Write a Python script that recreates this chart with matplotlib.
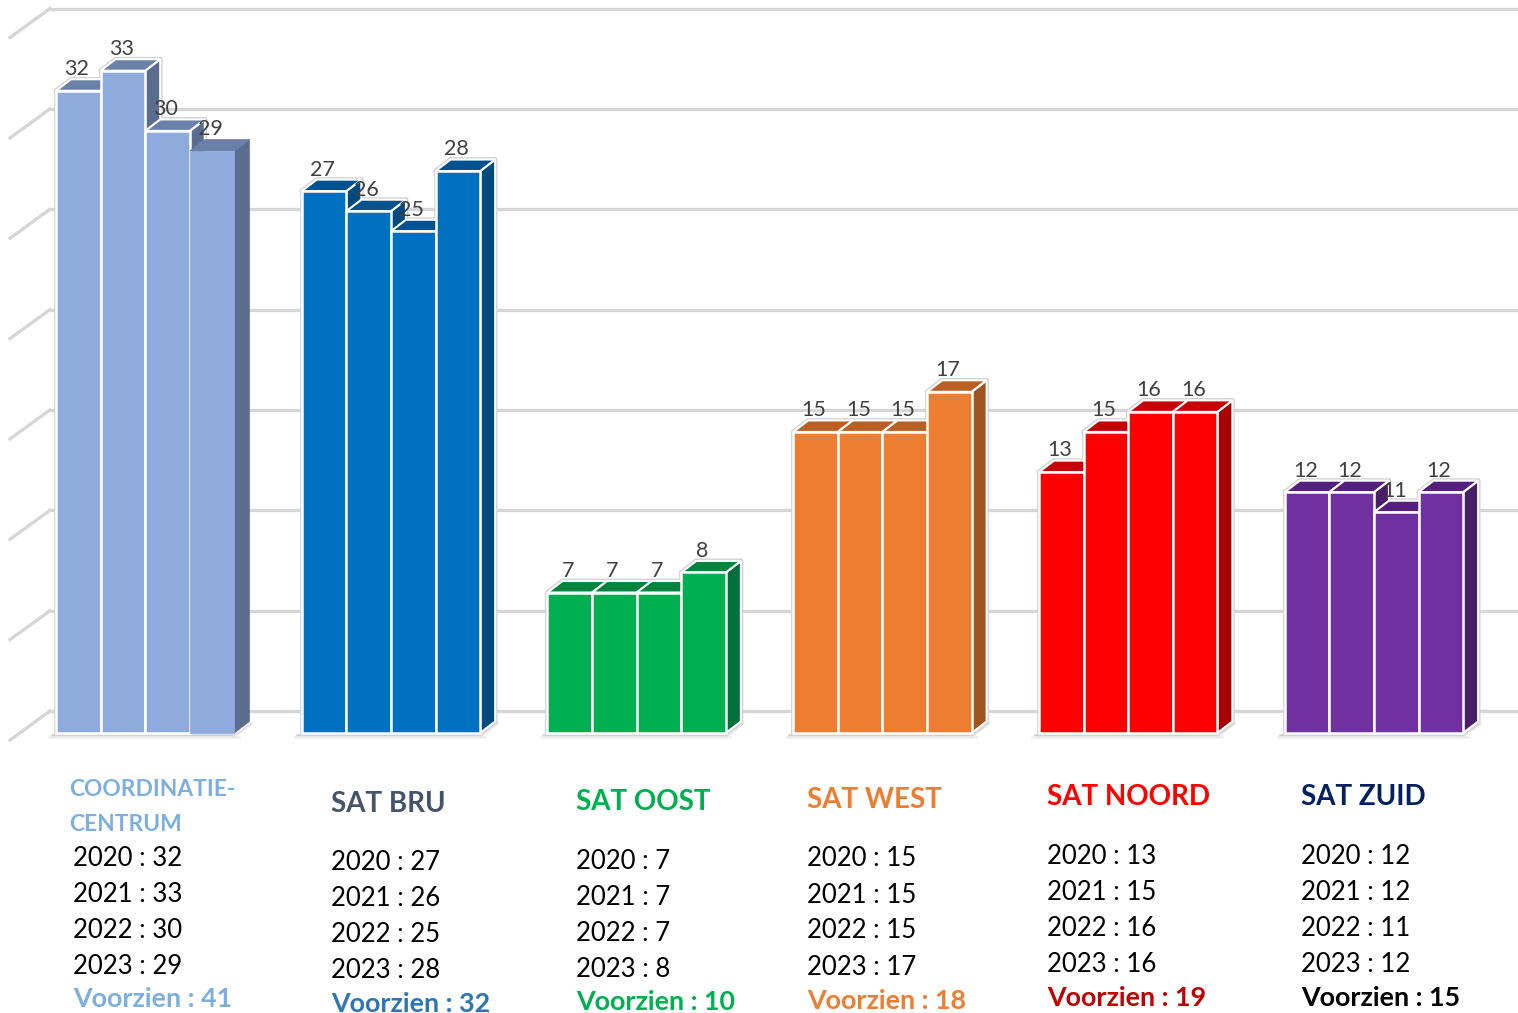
import matplotlib
matplotlib.use('Agg')
import matplotlib.pyplot as plt
from matplotlib.patches import Polygon

plt.rcParams['font.family'] = ['Lato', 'DejaVu Sans']

W, H = 1518, 1013

# data
jaren = ['2020', '2021', '2022', '2023']
groepen = ['COORDINATIE-\nCENTRUM', 'SAT BRU', 'SAT OOST', 'SAT WEST', 'SAT NOORD', 'SAT ZUID']
coordinatie = [32, 33, 30, 29]
sat_bru = [27, 26, 25, 28]
sat_oost = [7, 7, 7, 8]
sat_west = [15, 15, 15, 17]
sat_noord = [13, 15, 16, 16]
sat_zuid = [12, 12, 11, 12]
waarden = [coordinatie, sat_bru, sat_oost, sat_west, sat_noord, sat_zuid]
voorzien = [41, 32, 10, 18, 19, 15]
grid_waarden = [0, 5, 10, 15, 20, 25, 30, 35]

# colours
kleur_voor = ['#8FAADC', '#0070C0', '#00B050', '#ED7D31', '#FF0000', '#7030A0']
kleur_top = ['#6B80A6', '#00528F', '#00843B', '#B85F24', '#C40000', '#541F7E']
kleur_zij = ['#5B6D8F', '#004A80', '#00703A', '#A0541F', '#A80000', '#482068']
kleur_titel = ['#7CAFDE', '#44546A', '#00B050', '#ED7D31', '#FF0000', '#002060']
kleur_voorzien = ['#7CAFDE', '#2E75B6', '#00B050', '#ED7D31', '#C00000', '#000000']

# layout, in pixels of the picture
PX_X = 44.6
PX_Y = 20.07
X0 = 56
Y0 = 733
STAP = 5.51
DX = 15 / PX_X
DY = 11.5 / PX_Y
WAND_Y = 22 / PX_Y
WAND_X = 6 / PX_X
tekst_x = [73, 331, 576, 807, 1047, 1301]
titel_x = [69, 331, 576, 807, 1047, 1301]
titel_y = [831, 812, 810, 808, 805, 805]
rij_y = [858, 862, 861, 859, 856, 856]
voorzien_y = [1007, 1012, 1010, 1009, 1006, 1006]

fig = plt.figure(figsize=(W / 100, H / 100), dpi=100)
ax = fig.add_axes([0, 0, 1, 1])
ax.set_xlim(-X0 / PX_X, (W - X0) / PX_X)
ax.set_ylim((Y0 - H) / PX_Y, Y0 / PX_Y)
ax.axis('off')

# back wall and side wall lines
for g in grid_waarden:
    y = g + WAND_Y
    ax.plot([-WAND_X, (W - X0) / PX_X], [y, y], color='#d6d6d6', lw=2.4, zorder=1,
            solid_capstyle='butt')
    ax.plot([-WAND_X, -46 / PX_X], [y, y - 29 / PX_Y], color='#d6d6d6', lw=2.4, zorder=1)


def balk_vlakken(x, v):
    voor = [(x, 0), (x + 1, 0), (x + 1, v), (x, v)]
    top = [(x, v), (x + 1, v), (x + 1 + DX, v + DY), (x + DX, v + DY)]
    zij = [(x + 1, 0), (x + 1 + DX, DY), (x + 1 + DX, v + DY), (x + 1, v)]
    return voor, top, zij


for i, reeks in enumerate(waarden):
    x0 = i * STAP
    # floor shadow
    ax.plot([x0 - 0.1, x0 + 4], [-0.1, -0.1], color='#cfcfcf', lw=1.8, zorder=2)
    ax.plot([x0 - 0.15, x0 + 4.1], [-0.22, -0.22], color='#ececec', lw=1.8, zorder=2)
    ax.plot([x0 + 4, x0 + 4 + DX + 0.05], [-0.15, DY - 0.1], color='#e4e4e4', lw=1.8, zorder=2)

    z = 3
    # grey halo first, so that it stays around the whole block
    for j, v in enumerate(reeks):
        if i == 0 and j == 3:
            continue
        for vlak in balk_vlakken(x0 + j, v):
            ax.add_patch(Polygon(vlak, closed=True, facecolor='none', edgecolor='#d2d2d2',
                                 lw=3.4, zorder=z, joinstyle='round'))
    z = 4
    for j, v in enumerate(reeks):
        voor, top, zij = balk_vlakken(x0 + j, v)
        # the last bar of the first group has no white outline
        zonder_rand = i == 0 and j == 3
        ax.add_patch(Polygon(zij, closed=True, facecolor=kleur_zij[i],
                             edgecolor=kleur_zij[i] if zonder_rand else 'white',
                             lw=0.5 if zonder_rand else 1.5, zorder=z))
        ax.add_patch(Polygon(top, closed=True, facecolor=kleur_top[i],
                             edgecolor=kleur_top[i] if zonder_rand else 'white',
                             lw=0.5 if zonder_rand else 1.5, zorder=z))
        ax.add_patch(Polygon(voor, closed=True, facecolor=kleur_voor[i],
                             edgecolor=kleur_voor[i] if zonder_rand else 'white',
                             lw=0.5 if zonder_rand else 1.8, zorder=z))
        z += 1

    for j, v in enumerate(reeks):
        ax.text(x0 + j + 0.46, v + 21.6 / PX_Y, str(v), ha='center', va='center',
                fontsize=15.5, color='#404040', zorder=20)

    # text under the chart
    fig.text(titel_x[i] / W, 1 - titel_y[i] / H, groepen[i], ha='left', va='baseline',
             fontsize=20 if i else 16.4, fontweight='bold', color=kleur_titel[i], linespacing=1.8)
    for k, jaar in enumerate(jaren):
        fig.text(tekst_x[i] / W, 1 - (rij_y[i] + 36 * k) / H, jaar + ' : ' + str(reeks[k]),
                 ha='left', va='center', fontsize=18.5, color='black')
    fig.text(tekst_x[i] / W if i == 0 else titel_x[i] / W, 1 - voorzien_y[i] / H,
             'Voorzien : ' + str(voorzien[i]), ha='left', va='baseline', fontsize=19.4,
             fontweight='bold', color=kleur_voorzien[i])

fig.savefig('out.png', dpi=100)
